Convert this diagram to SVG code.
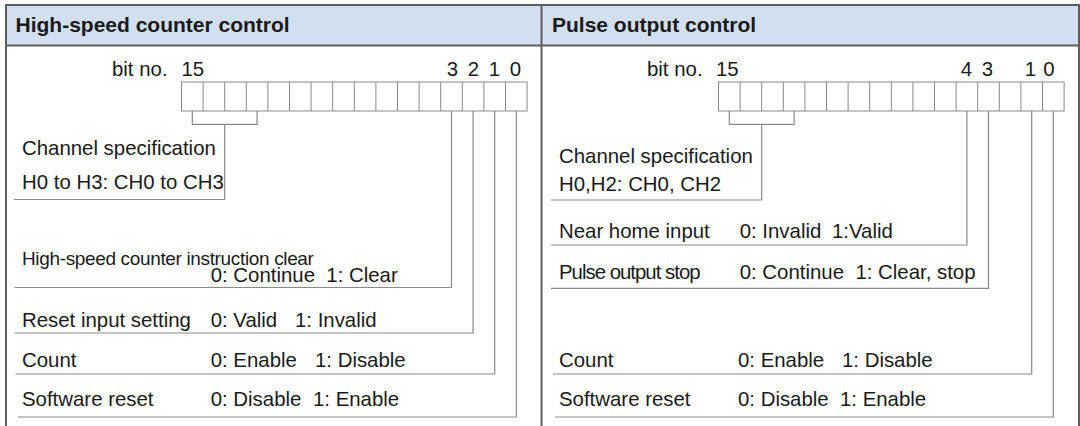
<svg xmlns="http://www.w3.org/2000/svg" width="1080" height="426" viewBox="0 0 1080 426">
<style>
text{font-family:"Liberation Sans",Arial,sans-serif;font-size:20.4px;fill:#1a1a1a}
.h{font-weight:bold;font-size:21px}
.hdr{fill:#d2dff0}
.frame{fill:none;stroke:#5e5e5e;stroke-width:2}
.box{fill:#fff;stroke:#8a8a8a;stroke-width:1}
.ln{fill:none;stroke:#8a8a8a;stroke-width:1.2}
.cond{font-size:19px;letter-spacing:-0.35px}
.mid{text-anchor:middle}
</style>
<rect width="1080" height="426" fill="#fff"/>
<g id="frame">
<rect class="hdr" x="6" y="5" width="1073" height="40.5"/>
<path class="frame" d="M6 430V5H1079V430M6 45.5H1079M541.5 5V430"/>
</g>
<g id="header-left"><text class="h" x="15.5" y="31.5">High-speed counter control</text></g>
<g id="header-right"><text class="h" x="552" y="31.5">Pulse output control</text></g>

<g id="register-left">
<rect class="box" x="181.5" y="82" width="345.6" height="29"/>
<path class="box" d="M203.1 82V111M224.7 82V111M246.3 82V111M267.9 82V111M289.5 82V111M311.1 82V111M332.7 82V111M354.3 82V111M375.9 82V111M397.5 82V111M419.1 82V111M440.7 82V111M462.3 82V111M483.9 82V111M505.5 82V111"/>
<text x="112" y="76">bit no.</text>
<text x="181.5" y="76">15</text>
<text class="mid" x="452.5" y="76">3</text>
<text class="mid" x="473.5" y="76">2</text>
<text class="mid" x="494.5" y="76">1</text>
<text class="mid" x="515.5" y="76">0</text>
</g>

<g id="register-right">
<rect class="box" x="718.5" y="82" width="345.6" height="29"/>
<path class="box" d="M740.1 82V111M761.7 82V111M783.3 82V111M804.9 82V111M826.5 82V111M848.1 82V111M869.7 82V111M891.3 82V111M912.9 82V111M934.5 82V111M956.1 82V111M977.7 82V111M999.3 82V111M1020.9 82V111M1042.5 82V111"/>
<text x="647" y="76">bit no.</text>
<text x="716" y="76">15</text>
<text class="mid" x="966.5" y="76">4</text>
<text class="mid" x="987.5" y="76">3</text>
<text class="mid" x="1030.5" y="76">1</text>
<text class="mid" x="1049" y="76">0</text>
</g>

<g id="connectors">
<path class="ln" d="M192.3 111V124.3H257.1V111M224.7 124.3V199.5H14"/>
<path class="ln" d="M451.5 111V287.5H14.5"/>
<path class="ln" d="M473.1 111V333H14.5"/>
<path class="ln" d="M494.7 111V374H15.5"/>
<path class="ln" d="M516.3 111V417H18"/>
<path class="ln" d="M729.3 111V124.3H794.1V111M761.7 124.3V200H551"/>
<path class="ln" d="M966.9 111V245H551"/>
<path class="ln" d="M988.5 111V288.3H551"/>
<path class="ln" d="M1031.7 111V374H553"/>
<path class="ln" d="M1053.3 111V417H555"/>
</g>

<g id="left-channel">
<text x="22" y="154.5">Channel specification</text>
<text x="22" y="188.5">H0 to H3: CH0 to CH3</text>
</g>
<g id="left-clear">
<text class="cond" x="22" y="265">High-speed counter instruction clear</text>
<text x="210.7" y="282">0: Continue</text>
<text x="326.3" y="282">1: Clear</text>
</g>
<g id="left-reset-input">
<text x="22" y="326.7">Reset input setting</text>
<text x="210.7" y="326.7">0: Valid</text>
<text x="295" y="326.7">1: Invalid</text>
</g>
<g id="left-count">
<text x="22" y="367">Count</text>
<text x="210.7" y="367">0: Enable</text>
<text x="315" y="367">1: Disable</text>
</g>
<g id="left-software-reset">
<text x="22" y="406">Software reset</text>
<text x="210.7" y="406">0: Disable</text>
<text x="313" y="406">1: Enable</text>
</g>

<g id="right-channel">
<text x="559" y="163.3">Channel specification</text>
<text x="559" y="191">H0,H2: CH0, CH2</text>
</g>
<g id="right-near-home">
<text x="559" y="238.3">Near home input</text>
<text x="739.7" y="238.3">0: Invalid</text>
<text x="832" y="238.3">1:Valid</text>
</g>
<g id="right-pulse-stop">
<text x="559" y="279.3" style="letter-spacing:-1px">Pulse output stop</text>
<text x="739.7" y="279.3">0: Continue</text>
<text x="855.4" y="279.3">1: Clear, stop</text>
</g>
<g id="right-count">
<text x="559" y="367">Count</text>
<text x="738" y="367">0: Enable</text>
<text x="842" y="367">1: Disable</text>
</g>
<g id="right-software-reset">
<text x="559" y="406">Software reset</text>
<text x="738" y="406">0: Disable</text>
<text x="840" y="406">1: Enable</text>
</g>
</svg>
